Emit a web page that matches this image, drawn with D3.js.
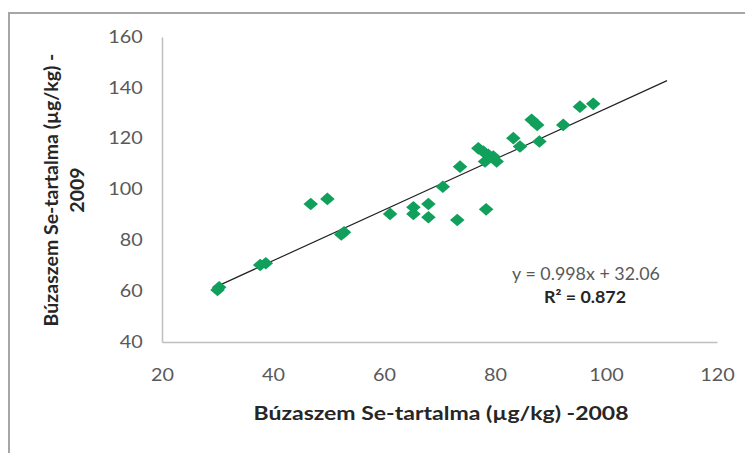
<!DOCTYPE html>
<html>
<head>
<meta charset="utf-8">
<script src="https://cdn.jsdelivr.net/npm/d3@7"></script>
<style>
  body { margin: 0; background: #fff; }
  svg { display: block; }
</style>
</head>
<body>
<div id="chart"></div>
<script>
// data (x = 2008, y = 2009)
var se2008 = [30, 30.3, 37.7, 38.7, 46.8, 49.8, 52.3, 52.8, 61.1, 65.3, 65.3, 68, 68, 70.6,
              73.2, 73.7, 77, 77.9, 78.2, 78.4, 78.8, 79.7, 80.3, 83.3, 84.5, 86.6, 87.6, 88, 92.3, 95.3, 97.7];
var se2009 = [60.5, 61.5, 70.3, 71, 94.3, 96.3, 82.3, 83.2, 90.4, 93, 90.4, 94.3, 89.1, 101.1,
              88, 109, 116.2, 114.9, 111, 92.2, 113.6, 113, 111, 120.2, 116.9, 127.4, 125.4, 118.9, 125.4, 132.6, 133.7];
var xTicks = [20, 40, 60, 80, 100, 120];
var yTicks = [40, 60, 80, 100, 120, 140, 160];
var trend = [0.998, 32.06];      // slope, intercept
var trendRange = [29.5, 111];

var W = 745, H = 453;
var margin = {top: 37, right: 28, bottom: 111, left: 162},
    width = W - margin.left - margin.right,
    height = H - margin.top - margin.bottom;

var font = "Lato, 'Open Sans', sans-serif";
var stretch = 1.2;   // the picture's text is a bit wide

var svg = d3.select("#chart")
  .append("svg")
    .attr("width", W)
    .attr("height", H);

// chart frame (only left and top show)
svg.append("rect")
  .attr("x", 9).attr("y", 13)
  .attr("width", 760).attr("height", 470)
  .attr("fill", "none")
  .attr("stroke", "#a6a6a6")
  .attr("stroke-width", 2);

var g = svg.append("g")
  .attr("transform", "translate(" + margin.left + "," + margin.top + ")");

var x = d3.scaleLinear().domain([20, 120]).range([0, width]);
var y = d3.scaleLinear().domain([40, 160]).range([height, 0]);

// X axis
var xAxis = g.append("g")
  .attr("transform", "translate(0," + height + ")")
  .call(d3.axisBottom(x).tickValues(xTicks).tickSize(0).tickPadding(27));
xAxis.select(".domain").attr("stroke", "#bfbfbf").attr("stroke-width", 1.5);
xAxis.selectAll("text")
  .style("font-family", font).style("font-size", "16.5px").attr("fill", "#595959")
  .attr("transform", "scale(" + stretch + ",1)");

// Y axis
var yAxis = g.append("g")
  .call(d3.axisLeft(y).tickValues(yTicks).tickSize(0).tickPadding(16));
yAxis.select(".domain").attr("stroke", "#bfbfbf").attr("stroke-width", 1.5);
yAxis.selectAll("text")
  .style("font-family", font).style("font-size", "16.5px").attr("fill", "#595959")
  .attr("transform", "scale(" + stretch + ",1)");

// trendline
g.append("line")
  .attr("x1", x(trendRange[0]))
  .attr("y1", y(trend[0] * trendRange[0] + trend[1]))
  .attr("x2", x(trendRange[1]))
  .attr("y2", y(trend[0] * trendRange[1] + trend[1]))
  .attr("stroke", "#222")
  .attr("stroke-width", 1.2);

// diamonds
var pts = se2008.map(function(d, i) { return {x: d, y: se2009[i]}; });
g.append("g")
  .selectAll("path")
  .data(pts)
  .enter()
  .append("path")
    .attr("d", d3.symbol().type(d3.symbolSquare).size(80))
    .attr("transform", function(d) {
      return "translate(" + x(d.x) + "," + y(d.y) + ") scale(1.15,1) rotate(45)";
    })
    .attr("fill", "#10a05c");

// equation
svg.append("text")
  .attr("transform", "translate(586,280) scale(1.05,1)")
  .attr("text-anchor", "middle")
  .style("font-family", font).style("font-size", "17px")
  .attr("fill", "#595959")
  .text("y = 0.998x + 32.06");

svg.append("text")
  .attr("transform", "translate(585,303) scale(1.05,1)")
  .attr("text-anchor", "middle")
  .style("font-family", font).style("font-size", "17px").style("font-weight", "bold")
  .attr("fill", "#262626")
  .text("R² = 0.872");

// axis titles
svg.append("text")
  .attr("transform", "translate(441,420) scale(1.18,1)")
  .attr("text-anchor", "middle")
  .style("font-family", font).style("font-size", "19.5px").style("font-weight", "bold")
  .attr("fill", "#262626")
  .text("Búzaszem Se-tartalma (µg/kg) -2008");

var yt = svg.append("text")
  .attr("transform", "translate(0,190) rotate(-90)")
  .attr("text-anchor", "middle")
  .style("font-family", font).style("font-size", "19.5px").style("font-weight", "bold")
  .attr("fill", "#262626");
yt.append("tspan").attr("x", 0).attr("y", 58).text("Búzaszem Se-tartalma (µg/kg) -");
yt.append("tspan").attr("x", 0).attr("y", 84).text("2009");
</script>
</body>
</html>
